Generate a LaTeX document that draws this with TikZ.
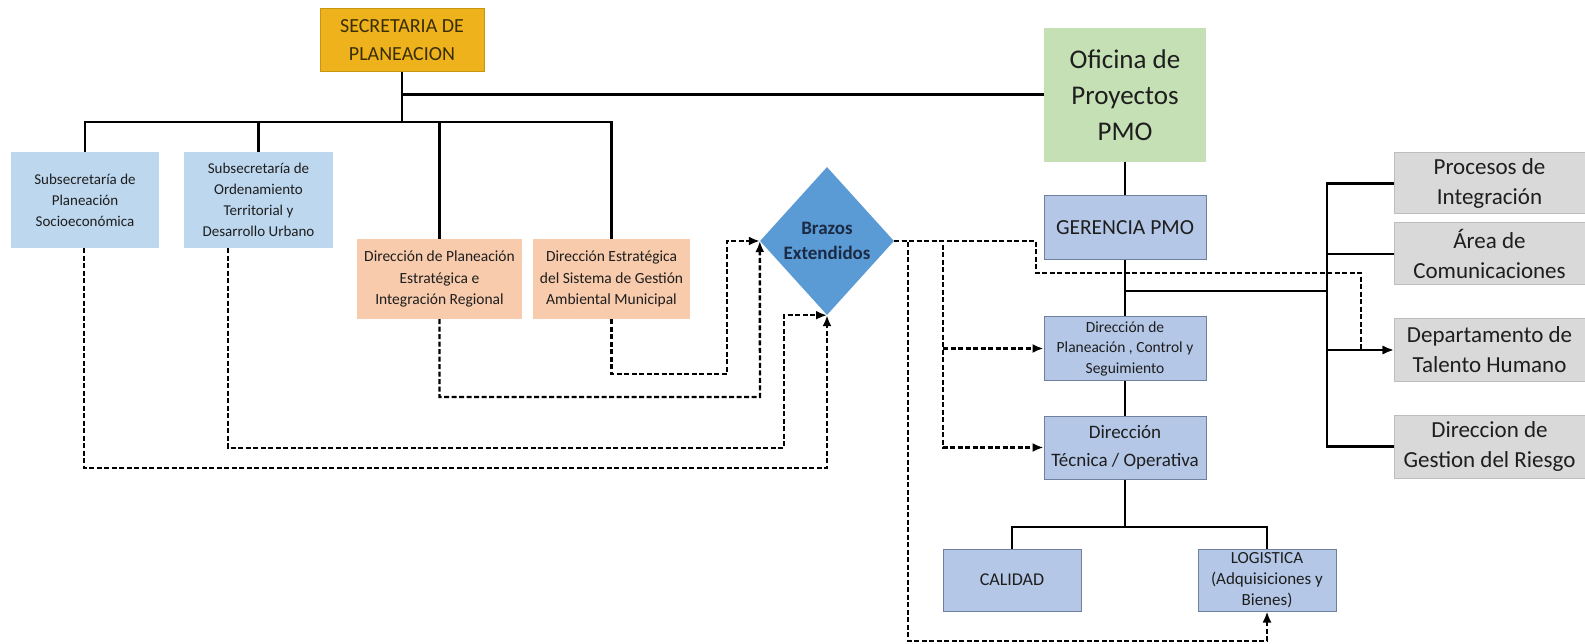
\documentclass[tikz,border=0pt]{standalone}
\usepackage{fontspec}
\setmainfont{Carlito}
\usetikzlibrary{arrows.meta,shapes.geometric,calc}
\definecolor{goldfill}{HTML}{EDB21C}
\definecolor{golddraw}{HTML}{C8960E}
\definecolor{goldtext}{HTML}{3A2E08}
\definecolor{subblue}{HTML}{BDD7EE}
\definecolor{peach}{HTML}{F8CBAD}
\definecolor{diamondblue}{HTML}{5B9BD5}
\definecolor{navytext}{HTML}{1B2B45}
\definecolor{pmogreen}{HTML}{C5E0B4}
\definecolor{unitblue}{HTML}{B4C7E7}
\definecolor{unitedge}{HTML}{6F7F9C}
\definecolor{greyfill}{HTML}{D9D9D9}
\definecolor{greyedge}{HTML}{BDBDBD}
\definecolor{ink}{HTML}{1E1E1E}
\newcommand{\setfs}[2]{\fontsize{#1}{#2}\selectfont}

\begin{document}
\begin{tikzpicture}[x=1pt,y=-1pt,
  box/.style={rectangle,inner sep=0pt,align=center,text=ink},
  secbox/.style={box,fill=goldfill,draw=golddraw,line width=1pt,text=goldtext,
    minimum width=164pt,minimum height=63pt,font=\setfs{20}{28}},
  subbox/.style={box,fill=subblue,minimum width=148pt,minimum height=96pt,font=\setfs{15}{21}},
  dirbox/.style={box,fill=peach,minimum height=80pt,font=\setfs{15.5}{21.5}},
  unitbox/.style={box,fill=unitblue,draw=unitedge,line width=1pt,minimum width=162pt,minimum height=63pt},
  lowbox/.style={box,fill=unitblue,draw=unitedge,line width=1pt,minimum width=138pt,minimum height=62pt},
  greybox/.style={box,fill=greyfill,draw=greyedge,line width=1pt,minimum width=191pt,minimum height=62pt,
    font=\setfs{23}{30}},
  conn/.style={draw=black,line width=2.6pt},
  dconn/.style={draw=black,line width=2.4pt,dash pattern=on 5pt off 2.5pt},
  tip/.style={-{Latex[length=11pt,width=9pt]}}
]
\useasboundingbox (0,0) rectangle (1585,644);

% ---- Secretaría and its dependencies
\node[secbox] (sec) at (402,40.5) {SECRETARIA DE\\PLANEACION};
\node[subbox] (sub1) at (85,200) {Subsecretaría de\\Planeación\\Socioeconómica};
\node[subbox,minimum width=149pt] (sub2) at (258.5,200) {Subsecretaría de\\Ordenamiento\\Territorial y\\Desarrollo Urbano};
\node[dirbox,minimum width=165pt] (dirP) at (439.5,279) {Dirección de Planeación\\Estratégica e\\Integración Regional};
\node[dirbox,minimum width=157pt] (dirE) at (611.5,279) {Dirección Estratégica\\del Sistema de Gestión\\Ambiental Municipal};

% ---- Brazos extendidos
\node[diamond,fill=diamondblue,inner sep=0pt,minimum width=134pt,minimum height=148pt,
  align=center,text=navytext,font=\bfseries\setfs{19}{25}] (brazos) at (827,241) {Brazos\\Extendidos};

% ---- Oficina de proyectos
\node[box,fill=pmogreen,minimum width=162pt,minimum height=134pt,font=\setfs{27}{36}] (pmo) at (1125,95) {Oficina de\\Proyectos\\PMO};
\node[unitbox,minimum height=64pt,font=\setfs{21.5}{26}] (ger) at (1125,228) {GERENCIA PMO};
\node[unitbox,font=\setfs{15.5}{20.5}] (ctl) at (1125,348.5) {Dirección de\\Planeación , Control y\\Seguimiento};
\node[unitbox,font=\setfs{19}{28}] (tec) at (1125,447.5) {Dirección\\Técnica / Operativa};
\node[lowbox,font=\setfs{18}{24}] (cal) at (1012,580) {CALIDAD};
\node[lowbox,font=\setfs{17}{21}] (log) at (1267,580) {LOGISTICA\\(Adquisiciones y\\Bienes)};

% ---- Support areas
\node[greybox,minimum height=61pt] (proc) at (1489.5,183.5) {Procesos de\\Integración};
\node[greybox] (area) at (1489.5,254) {Área de\\Comunicaciones};
\node[greybox] (dep) at (1489.5,350) {Departamento de\\Talento Humano};
\node[greybox,minimum height=63pt] (ries) at (1489.5,446.5) {Direccion de\\Gestion del Riesgo};

% ---- Junction points
\coordinate (jTop) at (402,95);
\coordinate (jBus) at (402,122);
\coordinate (gx) at (1327,0);
\coordinate (g1) at (1125,291);
\coordinate (tb) at (1125,527);
\coordinate (cE) at (727,374);
\coordinate (cP) at (760,397);
\coordinate (c2) at (784,448);
\coordinate (c1) at (827,468);
\coordinate (r1) at (1036,273);
\coordinate (r2) at (1361,350);
\coordinate (bL) at (908,641);
\coordinate (bT) at (943,447.5);
\coordinate (bP) at (943,348.5);

% ---- Solid hierarchy lines
\draw[conn] (sec.south) -- (jBus);
\draw[conn,line width=3pt] (jTop) -- (pmo.west);
\draw[conn] (sub1.north) |- (jBus) -- (jBus -| dirE.north) -- (dirE.north);
\draw[conn] (sub2.north) -- (sub2.north |- jBus);
\draw[conn] (dirP.north) -- (dirP.north |- jBus);

\draw[conn] (pmo.south) -- (ger.north);
\draw[conn] (ger.south) -- (ctl.north);
\draw[conn] (ctl.south) -- (tec.north);
\draw[conn] (g1) -- (g1 -| gx);
\draw[conn] (proc.west) -| (gx |- ries.west) -- (ries.west);
\draw[conn] (area.west) -- (area.west -| gx);
\draw[conn,tip] (dep.west -| gx) -- (dep.west);
\draw[conn] (tec.south) -- (tb);
\draw[conn] (cal.north) |- (tb) -| (log.north);

% ---- Dashed links into Brazos Extendidos
\draw[dconn,tip] (dirE.south) |- (cE) |- (brazos.west);
\draw[dconn,tip] (dirP.south) |- (cP) -- (brazos.west);
\draw[dconn,tip] ([xshift=-30.5pt]sub2.south) |- (c2) |- (brazos.south);
\draw[dconn,tip] ([xshift=-1pt]sub1.south) |- (c1) -- (brazos.south);

% ---- Dashed links out of Brazos Extendidos
\draw[dconn,tip] (brazos.east) -| (r1) -| (r2) -- (dep.west);
\draw[dconn,tip] (brazos.east) -| (bL) -| (log.south);
\draw[dconn,tip] (brazos.east) -| (bT) -- (tec.west);
\draw[dconn,tip] (bP) -- (ctl.west);
\end{tikzpicture}
\end{document}
